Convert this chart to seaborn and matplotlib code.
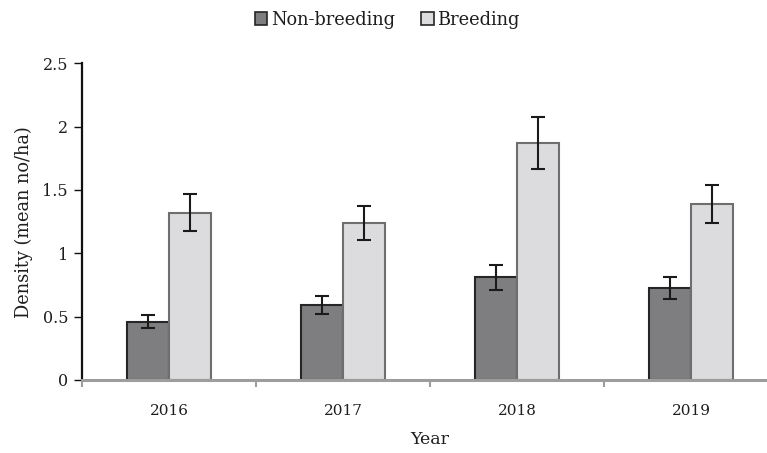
import matplotlib
matplotlib.use("Agg")
import matplotlib.pyplot as plt
import pandas as pd
import seaborn as sns
from matplotlib.patches import Patch

# Mean density per year, with standard errors
years = ["2016", "2017", "2018", "2019"]
seasons = ["Non-breeding", "Breeding"]
non_breeding = [0.46, 0.59, 0.81, 0.73]
breeding = [1.32, 1.24, 1.87, 1.39]
non_breeding_err = [0.053, 0.07, 0.098, 0.087]
breeding_err = [0.145, 0.136, 0.205, 0.152]
y_ticks = [0, 0.5, 1, 1.5, 2, 2.5]
y_tick_labels = ["0", "0.5", "1", "1.5", "2", "2.5"]

df = pd.DataFrame({
    "Year": years * 2,
    "Season": [seasons[0]] * len(years) + [seasons[1]] * len(years),
    "Density": non_breeding + breeding,
})

sns.set_theme(style="white")
plt.rcParams["font.family"] = ["DejaVu Serif"]

fill_colors = {"Non-breeding": "#7e7e80", "Breeding": "#dcdcde"}
edge_colors = {"Non-breeding": "#262626", "Breeding": "#6e6e6e"}

fig = plt.figure(figsize=(7.67, 4.53), dpi=100)
ax = fig.add_axes([82 / 767, 73 / 453, 696 / 767, 316.7 / 453])

sns.barplot(data=df, x="Year", y="Density", hue="Season", order=years,
            hue_order=seasons, palette=fill_colors, width=0.48,
            saturation=1, errorbar=None, legend=False, ax=ax)

errs = {"Non-breeding": non_breeding_err, "Breeding": breeding_err}
for cont, season in zip(ax.containers, seasons):
    for bar in cont:
        bar.set_edgecolor(edge_colors[season])
        bar.set_linewidth(1.5)
    xs = [b.get_x() + b.get_width() / 2 for b in cont]
    hs = [b.get_height() for b in cont]
    ax.errorbar(xs, hs, yerr=errs[season], fmt="none", ecolor="#1a1a1a",
                elinewidth=1.5, capsize=5, capthick=1.5, zorder=5)

ax.set_xlim(-0.5, 3.5)
ax.set_ylim(0, 2.5)
ax.set_yticks(y_ticks)
ax.set_yticklabels(y_tick_labels)

for side in ("top", "right"):
    ax.spines[side].set_visible(False)
ax.spines["left"].set_color("#111111")
ax.spines["left"].set_linewidth(1.6)
ax.spines["bottom"].set_color("#9d9d9d")
ax.spines["bottom"].set_linewidth(2.2)

ax.tick_params(axis="y", which="major", direction="out", length=6, width=1,
               color="#111111", pad=4, labelsize=11.5, labelcolor="#1e1e1e", left=True)
ax.tick_params(axis="x", which="major", length=0, pad=17, labelsize=11,
               labelcolor="#1e1e1e")
ax.set_xticks([-0.5, 0.5, 1.5, 2.5, 3.5], minor=True)
ax.tick_params(axis="x", which="minor", direction="out", length=5, width=1.5,
               color="#9d9d9d", bottom=True)

ax.set_xlabel("Year", fontsize=12.5, color="#1e1e1e", labelpad=10)
ax.set_ylabel("Density (mean no/ha)", fontsize=12.8, color="#1e1e1e", labelpad=7)

handles = [Patch(facecolor=fill_colors[s], edgecolor="#262626", linewidth=1.2, label=s)
           for s in seasons]
fig.legend(handles=handles, loc="upper center", bbox_to_anchor=(0.505, 1.012),
           ncol=2, frameon=False, fontsize=12.8, handlelength=0.7, handleheight=0.7,
           handletextpad=0.2, columnspacing=1.5, labelcolor="#1e1e1e")

fig.savefig("out.png", dpi=100)
